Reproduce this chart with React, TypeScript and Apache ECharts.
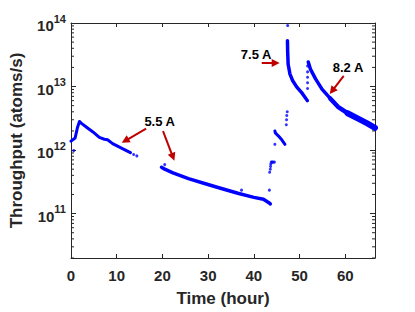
import React, { useEffect, useRef } from "react";
import * as echarts from "echarts";

// ---- data (x: hours, y: atoms/s) ----
const seg1: [number, number][] = [
  [0, 1.38e12], [0.9, 1.55e12], [1.4, 2.24e12], [1.85, 2.82e12], [2.3, 2.63e12],
  [3.4, 2.29e12], [4.8, 1.93e12], [6.2, 1.58e12], [7.3, 1.48e12], [8.0, 1.45e12],
  [9.1, 1.26e12], [10.5, 1.12e12], [11.9, 1.0e12], [13.0, 0.91e12],
];
const seg2: [number, number][] = [
  [19.8, 5.37e11], [20.5, 5.0e11], [22.3, 4.37e11], [25.7, 3.55e11], [29.4, 2.95e11],
  [32.9, 2.48e11], [36.5, 2.09e11], [40.0, 1.8e11], [42.1, 1.68e11], [43.2, 1.5e11],
  [43.6, 1.42e11],
];
const segShort: [number, number][] = [
  [44.6, 2.0e12], [44.7, 1.86e12], [45.4, 1.66e12], [46.0, 1.48e12], [46.8, 1.23e12],
];
const segUpper: [number, number][] = [
  [47.35, 5.25e13], [47.4, 3.47e13], [47.5, 2.24e13], [47.9, 1.57e13], [48.5, 1.23e13],
  [49.4, 9.8e12], [50.6, 7.8e12], [51.7, 6.0e12],
];
const seg4a: [number, number][] = [
  [51.9, 2.43e13], [52.4, 1.86e13], [53.5, 1.32e13], [54.9, 9.1e12], [56.7, 6.5e12],
];
const seg4b: [number, number][] = [
  [56.7, 6.5e12], [58.4, 4.8e12], [60.5, 3.8e12],
];
const seg4c: [number, number][] = [
  [60.5, 3.8e12], [62.7, 3.16e12], [64.8, 2.63e12], [66.5, 2.24e12],
];
const dots: [number, number][] = [
  [0.6, 9.8e11], [13.7, 8.5e11], [14.4, 8.1e11], [20.5, 5.9e11], [37.3, 2.34e11],
  [43.4, 2.34e11], [43.45, 4.47e11], [43.6, 5.0e11], [43.65, 5.5e11], [43.7, 6.0e11],
  [43.8, 6.46e11], [44.0, 6.46e11], [44.2, 6.46e11], [44.5, 6.46e11], [44.6, 1.23e12],
  [47.1, 2.5e12], [47.15, 3.0e12], [47.2, 3.5e12], [47.3, 4.0e12], [47.4, 9.1e13],
  [51.75, 2.1e13], [51.75, 1.7e13], [51.75, 1.4e13], [51.75, 1.15e13], [51.75, 9.3e12],
];
// arrows: [x0, y0, x1, y1] (start -> head)
const arrows: [number, number, number, number][] = [
  [16.43, 2.17e12, 11.86, 1.4e12],
  [20.13, 1.98e12, 22.3, 7.77e11],
  [41.72, 2.34e13, 44.78, 2.34e13],
  [59.66, 1.47e13, 57.13, 8.55e12],
];
const annotations: { text: string; x: number; y: number }[] = [
  { text: "5.5 A", x: 19.4, y: 2.82e12 },
  { text: "7.5 A", x: 40.5, y: 3.17e13 },
  { text: "8.2 A", x: 60.6, y: 2.02e13 },
];
const xTickValues = [0, 10, 20, 30, 40, 50, 60];
const yTickExponents = [11, 12, 13, 14];
const xMin = 0;
const xMax = 66.5;
const yMin = 2e10;
const yMax = 1e14;

const minorTickValues: number[] = [];
for (let e = 10; e <= 13; e++) {
  for (let m = 2; m <= 9; m++) {
    const v = m * Math.pow(10, e);
    if (v >= yMin && v <= yMax) minorTickValues.push(v);
  }
}

const FONT = "'Liberation Sans', Arial, Helvetica, sans-serif";
const AXIS = "#262626";
const BLUE = "#0000ff";
const RED = "#c00000";

export default function App() {
  const ref = useRef<HTMLDivElement>(null);
  useEffect(() => {
    if (!ref.current) return;
    const chart = echarts.init(ref.current, undefined, { renderer: "svg" });
    const lineSeries = (data: [number, number][], width: number) => ({
      type: "line",
      data,
      showSymbol: false,
      symbol: "none",
      lineStyle: { color: BLUE, width, cap: "round", join: "round" },
      silent: true,
      z: 3,
    });
    const commonX = {
      type: "value",
      min: xMin,
      max: xMax,
      interval: 10,
      splitLine: { show: false },
      axisLine: { show: true, onZero: false, lineStyle: { color: AXIS, width: 1 } },
      axisTick: { show: true, inside: true, length: 4, lineStyle: { color: AXIS } },
    };
    const commonY = {
      type: "log",
      logBase: 10,
      min: yMin,
      max: yMax,
      splitLine: { show: false },
      minorTick: { show: false },
      axisLine: { show: true, onZero: false, lineStyle: { color: AXIS, width: 1 } },
      axisTick: { show: true, inside: true, length: 5, lineStyle: { color: AXIS } },
    };
    chart.setOption({
      animation: false,
      backgroundColor: "#ffffff",
      grid: { left: 62, right: 40, top: 23, bottom: 49, containLabel: false },
      xAxis: [
        {
          ...commonX,
          position: "bottom",
          axisLabel: {
            show: true,
            margin: 10,
            fontSize: 15,
            fontWeight: "bold",
            fontFamily: FONT,
            color: AXIS,
            formatter: (v: number) => (xTickValues.includes(v) ? String(v) : ""),
          },
          name: "Time (hour)",
          nameLocation: "middle",
          nameGap: 32,
          nameTextStyle: { fontSize: 17, fontWeight: "bold", fontFamily: FONT, color: AXIS },
        },
        { ...commonX, position: "top", axisLabel: { show: false } },
      ],
      yAxis: [
        {
          ...commonY,
          position: "left",
          axisLabel: {
            show: true,
            margin: 5,
            color: AXIS,
            formatter: (v: number) => {
              const e = Math.round(Math.log10(v));
              if (Math.abs(Math.log10(v) - e) > 1e-6 || !yTickExponents.includes(e)) return "";
              return `{b|10}{e|${e}}`;
            },
            rich: {
              b: { fontSize: 15, fontWeight: "bold", fontFamily: FONT, color: AXIS, verticalAlign: "bottom" },
              e: { fontSize: 11, fontWeight: "bold", fontFamily: FONT, color: AXIS, verticalAlign: "bottom", padding: [0, 0, 9, 0] },
            },
          },
          name: "Throughput (atoms/s)",
          nameLocation: "middle",
          nameGap: 46,
          nameTextStyle: { fontSize: 17, fontWeight: "bold", fontFamily: FONT, color: AXIS },
        },
        { ...commonY, position: "right", axisLabel: { show: false } },
      ],
      series: [
        lineSeries(seg1, 3),
        lineSeries(seg2, 3.5),
        lineSeries(segShort, 3),
        lineSeries(segUpper, 3.5),
        lineSeries(seg4a, 3.5),
        lineSeries(seg4b, 4.5),
        lineSeries(seg4c, 6),
        {
          type: "scatter",
          data: dots,
          symbol: "circle",
          symbolSize: 3,
          itemStyle: { color: BLUE },
          silent: true,
          z: 3,
          markLine: {
            silent: true,
            symbol: ["none", "triangle"],
            symbolSize: 8,
            label: { show: false },
            lineStyle: { color: RED, width: 2, type: "solid" },
            data: arrows.map((a) => [{ coord: [a[0], a[1]] }, { coord: [a[2], a[3]] }]),
          },
          markPoint: {
            silent: true,
            symbol: "circle",
            symbolSize: 1,
            itemStyle: { color: "rgba(0,0,0,0)" },
            label: {
              show: true,
              position: "inside",
              formatter: "{b}",
              fontSize: 13,
              fontWeight: "bold",
              fontFamily: FONT,
              color: "#000000",
            },
            data: annotations.map((a) => ({ name: a.text, coord: [a.x, a.y] })),
          },
        },
        {
          type: "custom",
          silent: true,
          data: minorTickValues.map((v) => [xMin, v]),
          encode: { x: 0, y: 1 },
          z: 5,
          renderItem: (params: any, api: any) => {
            const cs = params.coordSys;
            const y = api.coord([xMin, api.value(1)])[1];
            return {
              type: "group",
              children: [
                { type: "line", shape: { x1: cs.x, y1: y, x2: cs.x + 3, y2: y }, style: { stroke: AXIS, lineWidth: 1 } },
                { type: "line", shape: { x1: cs.x + cs.width, y1: y, x2: cs.x + cs.width - 3, y2: y }, style: { stroke: AXIS, lineWidth: 1 } },
              ],
            };
          },
        },
      ],
    });
    return () => chart.dispose();
  }, []);
  return (
    <div
      ref={ref}
      style={{ position: "fixed", left: 0, top: 0, width: 415, height: 312, background: "#fff" }}
    />
  );
}
